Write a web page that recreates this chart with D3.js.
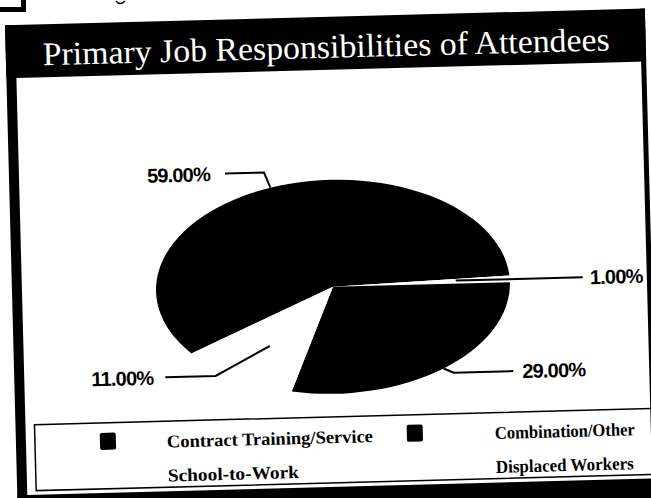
<!DOCTYPE html>
<html>
<head>
<meta charset="utf-8">
<script src="https://d3js.org/d3.v7.min.js"></script>
<style>
  body { margin: 0; background: #fff; }
  svg { display: block; }
</style>
</head>
<body>
<script>
var width = 651, height = 498;

// chart data
var title = "Primary Job Responsibilities of Attendees";
var categories = ["Contract Training/Service", "Combination/Other", "School-to-Work", "Displaced Workers"];
var values = [59, 29, 11, 1];
var percentLabels = ["59.00%", "29.00%", "11.00%", "1.00%"];
// clockwise slice order (indices into categories)
var sliceOrder = [0, 3, 1, 2];
var sliceColors = ["#000", "#000", "#fff", "#fff"];

// pie geometry (flattened, like the scanned original)
var cx = 332, cy = 287, rx = 177, ry = 107;
var startDeg = 234;

var svg = d3.select("body").append("svg")
    .attr("width", width)
    .attr("height", height);

svg.append("rect").attr("width", width).attr("height", height).attr("fill", "#fff");

// scan leftovers at top of page (corner mark and a descender from the text above)
svg.append("path")
    .attr("d", "M0,7 L21,7 L21,0 L26,0 L26,12 L0,12 Z")
    .attr("fill", "#000");
svg.append("path")
    .attr("d", "M116,1 Q120,6 125,1")
    .attr("fill", "none")
    .attr("stroke", "#000")
    .attr("stroke-width", 1.5);

// the whole page is slightly skewed in the scan
var page = svg.append("g")
    .attr("transform", "rotate(-1.5, 325, 250)");

// frame
page.append("rect").attr("x", 11).attr("y", 17).attr("width", 640).attr("height", 53).attr("fill", "#000");
page.append("rect").attr("x", 11).attr("y", 17).attr("width", 10).attr("height", 490).attr("fill", "#000");
page.append("rect").attr("x", 646).attr("y", 17).attr("width", 5).attr("height", 490).attr("fill", "#000");
page.append("rect").attr("x", 11).attr("y", 487).attr("width", 660).attr("height", 20).attr("fill", "#000");

page.append("text")
    .attr("x", 48).attr("y", 58)
    .attr("textLength", 567)
    .attr("lengthAdjust", "spacingAndGlyphs")
    .style("font-family", "'Liberation Serif', 'DejaVu Serif', serif")
    .style("font-size", "33px")
    .attr("fill", "#fff")
    .text(title);

// pie
var pie = d3.pie()
    .sort(null)
    .value(function(d) { return values[d]; })
    .startAngle(startDeg * Math.PI / 180)
    .endAngle(startDeg * Math.PI / 180 + 2 * Math.PI);

var arc = d3.arc().innerRadius(0).outerRadius(rx);
var arcs = pie(sliceOrder);

var pieG = page.append("g")
    .attr("transform", "translate(" + cx + "," + cy + ") scale(1," + (ry / rx) + ")");

pieG.selectAll("path")
    .data(arcs)
    .enter()
    .append("path")
    .attr("d", arc)
    .attr("fill", function(d) { return sliceColors[d.data]; });

// point on the flattened rim at angle a, f = fraction of radius
function rimPoint(a, f) {
  return [cx + f * rx * Math.sin(a), cy - f * ry * Math.cos(a)];
}

// label layout per category
var labelLayout = [
  {f: 1.0,  elbowDx: -6,  labelY: 171, lineEnd: 227, textX: 212, anchor: "end"},
  {f: 1.0,  elbowDx: 10,  labelY: 376, lineEnd: 510, textX: 519, anchor: "start"},
  {f: 0.65, elbowDx: -55, labelY: 373, lineEnd: 162, textX: 150, anchor: "end"},
  {f: 0.7,  elbowDx: 0,   labelY: 284, lineEnd: 582, textX: 589, anchor: "start"}
];

var labels = page.append("g").attr("class", "labels");

arcs.forEach(function(d) {
  var L = labelLayout[d.data];
  var mid = (d.startAngle + d.endAngle) / 2;
  var p0 = rimPoint(mid, L.f);
  var p1 = [p0[0] + L.elbowDx, L.labelY];
  var p2 = [L.lineEnd, L.labelY];
  labels.append("path")
      .attr("d", d3.line()([p0, p1, p2]))
      .attr("fill", "none")
      .attr("stroke", "#000")
      .attr("stroke-width", 2);
  labels.append("text")
      .attr("x", L.textX)
      .attr("y", L.labelY)
      .attr("dy", "0.36em")
      .attr("text-anchor", L.anchor)
      .style("font-family", "'Liberation Sans', Arial, sans-serif")
      .style("font-weight", "bold")
      .style("font-size", "20px")
      .style("letter-spacing", "-0.8px")
      .text(percentLabels[d.data]);
});

// legend
page.append("rect")
    .attr("x", 30).attr("y", 417)
    .attr("width", 640).attr("height", 66)
    .attr("fill", "none")
    .attr("stroke", "#000")
    .attr("stroke-width", 1.5);

var legendPos = [
  {sx: 95, tx: 162, y: 437, w: 206},
  {sx: 402, tx: 490, y: 437, w: 140},
  {sx: 95, tx: 162, y: 471, w: 131},
  {sx: 402, tx: 490, y: 471, w: 138}
];

var legend = page.append("g").attr("class", "legend");
categories.forEach(function(c, i) {
  var P = legendPos[i];
  legend.append("rect")
      .attr("x", P.sx).attr("y", P.y - 10)
      .attr("width", 16).attr("height", 17)
      .attr("rx", 2)
      .attr("fill", sliceColors[i]);
  legend.append("text")
      .attr("x", P.tx).attr("y", P.y)
      .attr("dy", "0.35em")
      .attr("textLength", P.w)
      .attr("lengthAdjust", "spacingAndGlyphs")
      .style("font-family", "'Liberation Serif', 'DejaVu Serif', serif")
      .style("font-weight", "bold")
      .style("font-size", "18px")
      .text(c);
});
</script>
</body>
</html>
